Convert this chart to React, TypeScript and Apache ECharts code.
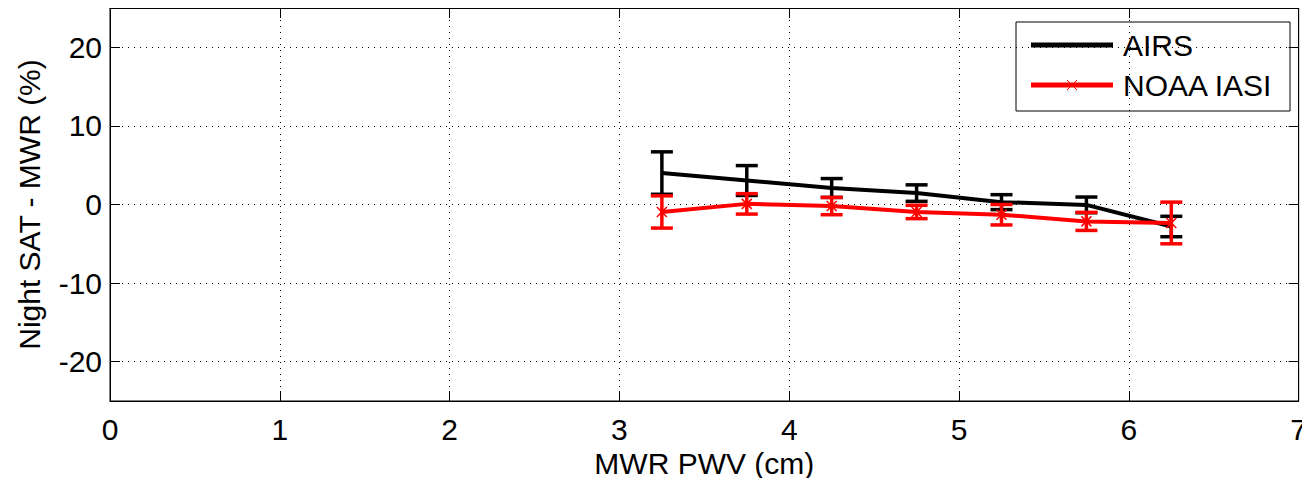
import React, { useEffect, useRef } from "react";
import * as echarts from "echarts";

const pwv = [3.25, 3.75, 4.25, 4.75, 5.25, 5.75, 6.25];
const airsMean = [4.0, 3.05, 2.1, 1.45, 0.3, -0.05, -2.8];
const airsErr = [2.7, 1.9, 1.2, 1.05, 0.95, 1.0, 1.3];
const iasiMean = [-0.95, 0.08, -0.2, -0.95, -1.3, -2.15, -2.35];
const iasiErr = [2.05, 1.3, 1.1, 0.85, 1.3, 1.15, 2.65];
const xTicks = [0, 1, 2, 3, 4, 5, 6, 7];
const yTicks = [-20, -10, 0, 10, 20];
const seriesNames = ["AIRS", "NOAA IASI"];

const FONT = "'Liberation Sans', Arial, Helvetica, sans-serif";

function errSeries(name: string, mean: number[], err: number[], color: string, z: number) {
  const data = pwv.map((x, i) => [x, mean[i] - err[i], mean[i] + err[i]]);
  return {
    type: "custom",
    name: name + "-err",
    z,
    silent: true,
    data,
    renderItem: (_p: any, api: any) => {
      const x = api.value(0);
      const lo = api.coord([x, api.value(1)]);
      const hi = api.coord([x, api.value(2)]);
      const w = 11;
      const st = { stroke: color, lineWidth: 3.5 };
      return {
        type: "group",
        children: [
          { type: "line", shape: { x1: lo[0], y1: lo[1], x2: hi[0], y2: hi[1] }, style: st },
          { type: "line", shape: { x1: lo[0] - w, y1: lo[1], x2: lo[0] + w, y2: lo[1] }, style: st },
          { type: "line", shape: { x1: hi[0] - w, y1: hi[1], x2: hi[0] + w, y2: hi[1] }, style: st },
        ],
      };
    },
  };
}

export default function App() {
  const ref = useRef<HTMLDivElement>(null);
  useEffect(() => {
    const chart = echarts.init(ref.current!, undefined, { renderer: "svg" });
    const axisCommon = {
      type: "value",
      axisLine: { show: true, onZero: false, lineStyle: { color: "#000", width: 1 } },
      axisTick: { show: true, inside: true, length: 10, lineStyle: { color: "#000" } },
      axisLabel: { color: "#000", fontSize: 30, fontFamily: FONT },
    };
    const lx = 1016, ly = 22, lw = 274, lh = 89;
    const legendGraphic = {
      type: "group",
      z: 100,
      children: [
        { type: "rect", shape: { x: lx, y: ly, width: lw, height: lh }, style: { fill: "#fff", stroke: "#000", lineWidth: 1 } },
        { type: "line", shape: { x1: 1031, y1: 45, x2: 1113, y2: 45 }, style: { stroke: "#000", lineWidth: 5 } },
        { type: "circle", shape: { cx: 1072, cy: 45, r: 1.5 }, style: { fill: "#000" } },
        { type: "text", x: 1123, y: 45, style: { text: seriesNames[0], fill: "#000", fontSize: 30, fontFamily: FONT, verticalAlign: "middle", align: "left" } },
        { type: "line", shape: { x1: 1031, y1: 85, x2: 1113, y2: 85 }, style: { stroke: "#ff0000", lineWidth: 5 } },
        { type: "line", shape: { x1: 1067, y1: 80, x2: 1077, y2: 90 }, style: { stroke: "#ff0000", lineWidth: 1 } },
        { type: "line", shape: { x1: 1067, y1: 90, x2: 1077, y2: 80 }, style: { stroke: "#ff0000", lineWidth: 1 } },
        { type: "text", x: 1123, y: 85, style: { text: seriesNames[1], fill: "#000", fontSize: 30, fontFamily: FONT, verticalAlign: "middle", align: "left" } },
      ],
    };
    chart.setOption({
      animation: false,
      backgroundColor: "#fff",
      textStyle: { fontFamily: FONT },
      grid: { left: 110, right: 10, top: 8, bottom: 85, show: true, borderColor: "#000", borderWidth: 1 },
      graphic: [legendGraphic],
      xAxis: [
        {
          ...axisCommon,
          min: 0,
          max: 7,
          interval: 1,
          position: "bottom",
          name: "MWR PWV (cm)",
          nameLocation: "middle",
          nameGap: 44,
          nameTextStyle: { color: "#000", fontSize: 30, fontFamily: FONT },
          axisLabel: { ...axisCommon.axisLabel, margin: 13, customValues: xTicks },
          splitLine: { show: true, lineStyle: { color: "#000", type: [1, 5], width: 1 } },
        },
        {
          ...axisCommon,
          min: 0,
          max: 7,
          interval: 1,
          position: "top",
          axisLabel: { show: false },
          splitLine: { show: false },
        },
      ],
      yAxis: [
        {
          ...axisCommon,
          min: -25,
          max: 25,
          interval: 5,
          position: "left",
          name: "Night SAT - MWR (%)",
          nameLocation: "middle",
          nameGap: 66,
          nameTextStyle: { color: "#000", fontSize: 30, fontFamily: FONT },
          axisTick: { ...axisCommon.axisTick, customValues: yTicks },
          axisLabel: { ...axisCommon.axisLabel, margin: 8, customValues: yTicks },
          splitLine: { show: false },
        },
        {
          ...axisCommon,
          min: -25,
          max: 25,
          interval: 5,
          position: "right",
          axisTick: { ...axisCommon.axisTick, customValues: yTicks },
          axisLabel: { show: false },
          splitLine: { show: false },
        },
      ],
      series: [
        {
          type: "line",
          name: "yGrid",
          silent: true,
          data: [],
          markLine: {
            silent: true,
            symbol: "none",
            label: { show: false },
            lineStyle: { color: "#000", type: [1, 5], width: 1 },
            data: yTicks.map((v) => ({ yAxis: v })),
          },
        },
        errSeries(seriesNames[0], airsMean, airsErr, "#000", 3),
        {
          type: "line",
          name: seriesNames[0],
          z: 4,
          data: pwv.map((x, i) => [x, airsMean[i]]),
          symbol: "none",
          color: "#000",
          lineStyle: { color: "#000", width: 4 },
        },
        errSeries(seriesNames[1], iasiMean, iasiErr, "#ff0000", 5),
        {
          type: "line",
          name: seriesNames[1],
          z: 6,
          data: pwv.map((x, i) => [x, iasiMean[i]]),
          symbol: "path://M0,0L10,10M10,0L0,10",
          symbolSize: 10,
          color: "#ff0000",
          itemStyle: { color: "#ff0000", borderColor: "#ff0000", borderWidth: 1.5 },
          lineStyle: { color: "#ff0000", width: 4 },
        },
      ],
    });
    return () => chart.dispose();
  }, []);
  return <div ref={ref} style={{ width: 1310, height: 486, margin: -8 }} />;
}
